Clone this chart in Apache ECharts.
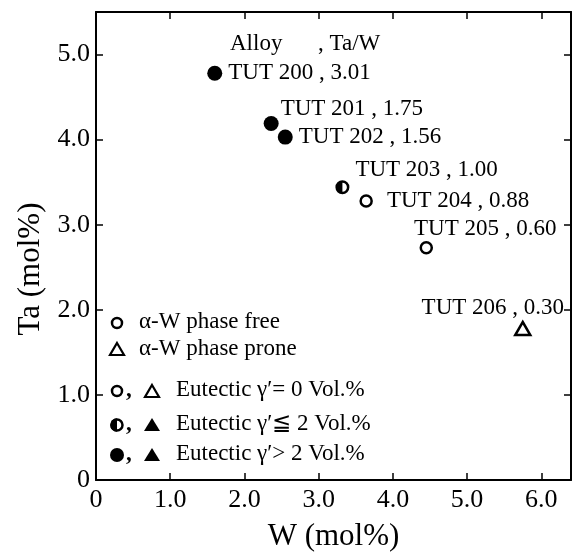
<!DOCTYPE html>
<html>
<head>
<meta charset="utf-8">
<script src="https://cdn.jsdelivr.net/npm/echarts@6/dist/echarts.min.js"></script>
<style>
  html, body { margin: 0; padding: 0; background: #fff; }
  #chart1 { width: 575px; height: 557px; }
</style>
</head>
<body>
<div id="chart1"></div>
<script>
// values
const alloys = ['TUT 200', 'TUT 201', 'TUT 202', 'TUT 203', 'TUT 204', 'TUT 205', 'TUT 206'];
const wMol = [1.60, 2.36, 2.55, 3.32, 3.64, 4.45, 5.75];
const taMol = [4.78, 4.19, 4.03, 3.44, 3.28, 2.73, 1.78];
const taWRatio = ['3.01', '1.75', '1.56', '1.00', '0.88', '0.60', '0.30'];
// eutectic gamma' class: 0 = none, 1 = <= 2 vol%, 2 = > 2 vol%
const eutecticClass = [2, 2, 2, 1, 0, 0, 0];
// alpha-W phase: free / prone
const alphaW = ['free', 'free', 'free', 'free', 'free', 'free', 'prone'];
const xTicks = [0, 1, 2, 3, 4, 5, 6];
const yTicks = [0, 1, 2, 3, 4, 5];

// label placement for each point (dx, dy from default 'right' position)
const labelShift = [[0, 0], [-4, -15], [0, 0], [0, -17], [8, 0], [-25, -19], [-116, -21]];

const serif = 'Liberation Serif';
const halfPath = 'path://M0,50A50,50 0 1,1 100,50A50,50 0 1,1 0,50Z M50,18L50,82A32,32 0 0,0 50,18Z';

function pointsFor(test) {
  const out = [];
  for (let i = 0; i < alloys.length; i++) {
    if (!test(i)) continue;
    out.push({
      value: [wMol[i], taMol[i]],
      label: {
        formatter: alloys[i] + ' , ' + taWRatio[i],
        offset: labelShift[i]
      }
    });
  }
  return out;
}

const labelStyle = {
  show: true,
  position: 'right',
  distance: 6,
  color: '#000',
  opacity: 1,
  fontFamily: serif,
  fontSize: 23
};

const tickFmt = v => (v === 0 ? '0' : v.toFixed(1));

const chart1 = echarts.init(document.getElementById('chart1'));

const axisBase = {
  type: 'value',
  axisLine: { show: true, onZero: false, lineStyle: { color: '#000', width: 2 } },
  axisTick: { show: true, inside: true, length: 7, lineStyle: { color: '#000', width: 1.5 } },
  splitLine: { show: false }
};

const txt = (x, y, s, bold) => ({
  type: 'text', x: x, y: y,
  style: { text: s, font: (bold ? 'bold ' : '') + '23px "Liberation Serif"', fill: '#000', textVerticalAlign: 'middle' }
});

const option = {
  animation: false,
  backgroundColor: '#fff',
  grid: { left: 96, right: 4, top: 12, bottom: 72 },
  xAxis: [
    Object.assign({}, axisBase, {
      min: 0, max: 6.4, interval: 1,
      name: 'W (mol%)',
      nameLocation: 'middle',
      nameGap: 41,
      nameTextStyle: { color: '#000', fontFamily: serif, fontSize: 31 },
      axisTick: Object.assign({}, axisBase.axisTick, { customValues: xTicks }),
      axisLabel: { customValues: xTicks, formatter: tickFmt, color: '#000', fontFamily: serif, fontSize: 26, margin: 7 }
    }),
    Object.assign({}, axisBase, {
      position: 'top', min: 0, max: 6.4, interval: 1,
      axisTick: Object.assign({}, axisBase.axisTick, { customValues: xTicks }),
      axisLabel: { show: false }
    })
  ],
  yAxis: [
    Object.assign({}, axisBase, {
      min: 0, max: 5.5, interval: 1,
      name: 'Ta (mol%)',
      nameLocation: 'middle',
      nameGap: 50,
      nameTextStyle: { color: '#000', fontFamily: serif, fontSize: 31, padding: [0, 46, 0, 0] },
      axisTick: Object.assign({}, axisBase.axisTick, { customValues: yTicks }),
      axisLabel: { customValues: yTicks, formatter: tickFmt, color: '#000', fontFamily: serif, fontSize: 26, margin: 6 }
    }),
    Object.assign({}, axisBase, {
      position: 'right', min: 0, max: 5.5, interval: 1,
      axisTick: Object.assign({}, axisBase.axisTick, { customValues: yTicks }),
      axisLabel: { show: false }
    })
  ],
  series: [
    {
      name: 'gamma > 2',
      type: 'scatter',
      symbol: 'circle',
      symbolSize: 15,
      itemStyle: { color: '#000', opacity: 1 },
      label: labelStyle,
      data: pointsFor(i => eutecticClass[i] === 2 && alphaW[i] === 'free')
    },
    {
      name: 'gamma <= 2',
      type: 'scatter',
      symbol: halfPath,
      symbolSize: 14,
      itemStyle: { color: '#000', opacity: 1 },
      label: labelStyle,
      data: pointsFor(i => eutecticClass[i] === 1 && alphaW[i] === 'free')
    },
    {
      name: 'gamma = 0',
      type: 'scatter',
      symbol: 'circle',
      symbolSize: 11,
      itemStyle: { color: '#fff', borderColor: '#000', borderWidth: 2.5, opacity: 1 },
      label: labelStyle,
      data: pointsFor(i => eutecticClass[i] === 0 && alphaW[i] === 'free')
    },
    {
      name: 'prone',
      type: 'scatter',
      symbol: 'triangle',
      symbolSize: [15, 13],
      itemStyle: { color: '#fff', borderColor: '#000', borderWidth: 2.5, opacity: 1 },
      label: labelStyle,
      data: pointsFor(i => alphaW[i] === 'prone')
    }
  ],
  graphic: [
    // header over the point labels
    txt(230, 44, 'Alloy'),
    txt(318, 44, ', Ta/W'),

    // legend block
    { type: 'circle', shape: { cx: 117, cy: 323, r: 5 }, style: { fill: '#fff', stroke: '#000', lineWidth: 2.5 } },
    txt(139, 322, 'α-W phase free'),
    { type: 'polygon', shape: { points: [[117, 343], [124, 355], [110, 355]] }, style: { fill: '#fff', stroke: '#000', lineWidth: 2.2 } },
    txt(139, 349, 'α-W phase prone'),

    { type: 'circle', shape: { cx: 117, cy: 391, r: 5 }, style: { fill: '#fff', stroke: '#000', lineWidth: 2.5 } },
    txt(126, 390, ',', true),
    { type: 'polygon', shape: { points: [[152, 385], [159, 397], [145, 397]] }, style: { fill: '#fff', stroke: '#000', lineWidth: 2.2 } },
    txt(176, 390, 'Eutectic γ′= 0 Vol.%'),

    { type: 'circle', shape: { cx: 117, cy: 425, r: 5.5 }, style: { fill: '#fff', stroke: '#000', lineWidth: 2.5 } },
    { type: 'sector', shape: { cx: 117, cy: 425, r0: 0, r: 6.8, startAngle: Math.PI / 2, endAngle: Math.PI * 1.5 }, style: { fill: '#000' } },
    txt(126, 424, ',', true),
    { type: 'polygon', shape: { points: [[152, 418], [160, 431], [144, 431]] }, style: { fill: '#000' } },
    txt(176, 424, 'Eutectic γ′≦ 2 Vol.%'),

    { type: 'circle', shape: { cx: 117, cy: 455, r: 7 }, style: { fill: '#000' } },
    txt(126, 454, ',', true),
    { type: 'polygon', shape: { points: [[152, 448], [160, 461], [144, 461]] }, style: { fill: '#000' } },
    txt(176, 454, 'Eutectic γ′> 2 Vol.%')
  ]
};

chart1.setOption(option);
</script>
</body>
</html>
